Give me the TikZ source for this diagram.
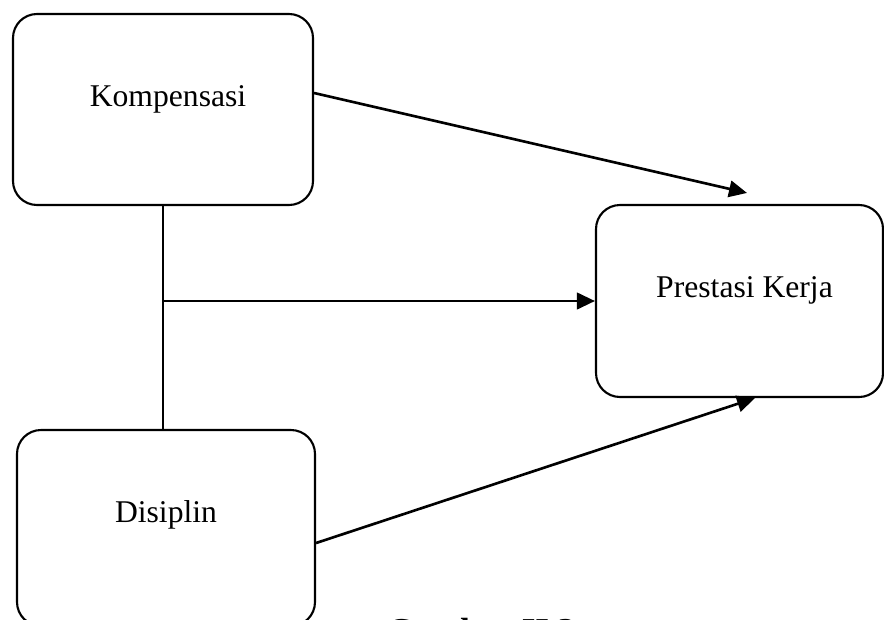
\documentclass[tikz,border=0pt]{standalone}
\usepackage{fontspec}
\setmainfont{Liberation Serif}
\usetikzlibrary{arrows.meta, positioning, calc}

\begin{document}
\begin{tikzpicture}[
  box/.style={draw, line width=1.2pt, rounded corners=0.48cm, minimum width=6cm, minimum height=3.82cm,
    align=center, text height=0.5cm, text depth=0.64cm, font=\fontsize{18}{22}\selectfont},
  arr/.style={-{Triangle[length=0.36cm, width=0.33cm]}, line width=1.5pt},
  link/.style={line width=1.2pt}
]

  % Page frame
  \useasboundingbox (0, 0) rectangle (17.68, -12.38);
  \clip (0, 0) rectangle (17.68, -12.38);

  % Kompensasi
  \node[box] (kmp) at (3.26, -2.19) {\hspace{0.2cm}Kompensasi};

  % Disiplin
  \node[box, minimum width=5.96cm, minimum height=3.92cm, text depth=0.74cm] (dsp) at (3.32, -10.56) {Disiplin};

  % Prestasi Kerja
  \node[box, minimum width=5.74cm, minimum height=3.84cm] (pk) at (14.79, -6.02) {\hspace{0.2cm}Prestasi Kerja};

  % Arrow ends
  \coordinate (kstart) at ([yshift=0.33cm]kmp.east);
  \coordinate (ktip) at ([xshift=0.15cm, yshift=0.22cm]pk.north);
  \coordinate (dstart) at ([yshift=-0.3cm]dsp.east);
  \coordinate (dtip) at ([xshift=0.31cm]pk.south);
  \coordinate (joint) at (kmp.south |- pk.west);

  % Connectors
  \draw[link] (kmp.south) -- (kmp.south |- dsp.north);
  \draw[arr] (kstart) -- (ktip);
  \draw[arr] (joint) -- (pk.west);
  \draw[arr] (dstart) -- (dtip);

  % Caption
  \node[anchor=base, font=\fontsize{19.9}{23}\selectfont\bfseries] (cap) at (9.62, -12.84) {Gambar II.3};

\end{tikzpicture}
\end{document}
